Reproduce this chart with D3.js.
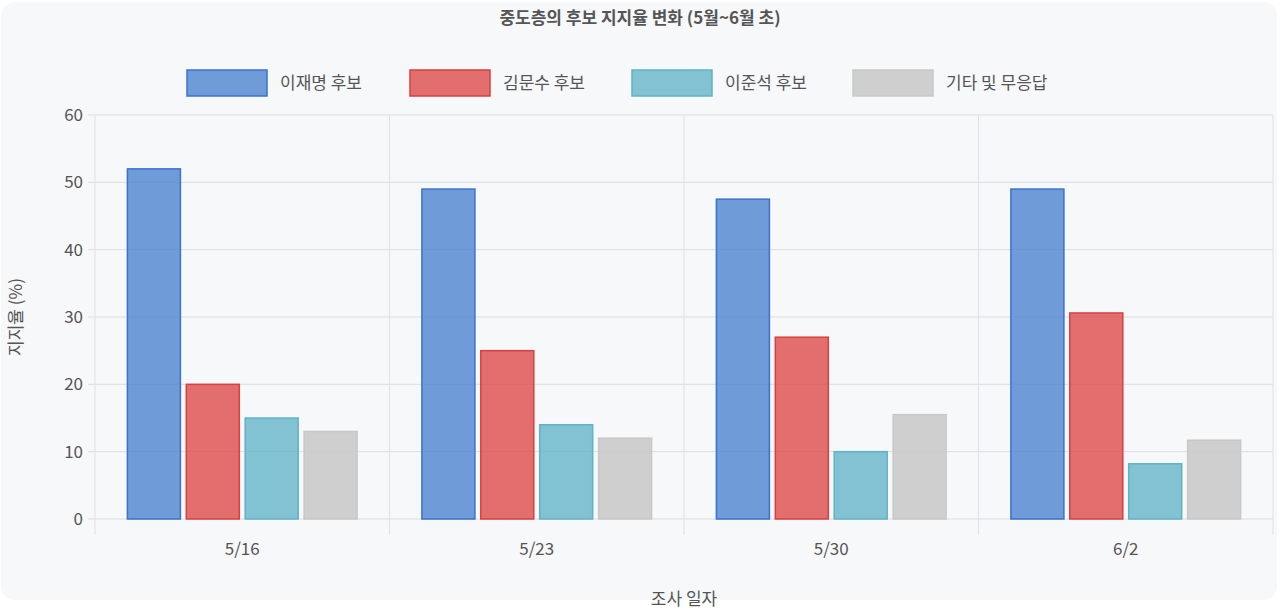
<!DOCTYPE html>
<html><head><meta charset="utf-8">
<script src="https://cdn.jsdelivr.net/npm/d3@7"></script>
<style>
body{margin:0;background:#fff;font-family:"Noto Sans CJK KR","Noto Sans",sans-serif;}
</style></head><body>
<svg id="c" width="1280" height="610"></svg>
<script>
const categories=["5/16","5/23","5/30","6/2"];
const seriesNames=["이재명 후보","김문수 후보","이준석 후보","기타 및 무응답"];
const lee=[52,49,47.5,49];
const kim=[20,25,27,30.6];
const lees=[15,14,10,8.2];
const other=[13,12,15.5,11.7];
const yTicks=[0,10,20,30,40,50,60];
const fills=["rgba(74,128,208,0.78)","rgba(220,70,70,0.78)","rgba(100,180,200,0.8)","rgba(200,200,200,0.85)"];
const strokes=["#3b72cf","#d94040","#5fb3c6","#c8c8c8"];
const series=[lee,kim,lees,other];

const svg=d3.select("#c");
svg.append("rect").attr("x",1).attr("y",2).attr("width",1276).attr("height",598).attr("rx",14).attr("fill","#f7f8fa");
const L=95,R=1273,T=115,B=519;
const x=d3.scaleBand().domain(categories).range([L,R]);
const y=d3.scaleLinear().domain([0,60]).range([B,T]);
const xs=d3.scaleBand().domain(d3.range(4)).range([0,x.bandwidth()*0.8]).paddingInner(0.1).paddingOuter(0.05);
const g=svg.append("g");
// horizontal grid
g.selectAll(".hg").data(yTicks).join("line").attr("x1",L-7).attr("x2",R).attr("y1",d=>y(d)).attr("y2",d=>y(d)).attr("stroke","#dcdde0").attr("stroke-width",1);
// vertical grid
const vb=d3.range(5).map(i=>L+i*x.bandwidth());
g.selectAll(".vg").data(vb).join("line").attr("x1",d=>d).attr("x2",d=>d).attr("y1",T).attr("y2",B+16).attr("stroke","#e0e1e4");
// bars
series.forEach((s,si)=>{
  g.selectAll(".b"+si).data(s).join("rect")
   .attr("x",(d,i)=>x(categories[i])+x.bandwidth()*0.1+xs(si)).attr("width",xs.bandwidth())
   .attr("y",d=>y(d)).attr("height",d=>B-y(d))
   .attr("fill",fills[si]).attr("stroke",strokes[si]).attr("stroke-width",1.5);
});
// y labels
g.selectAll(".yl").data(yTicks).join("text").attr("x",L-12).attr("y",d=>y(d)).attr("dy","0.35em").attr("text-anchor","end")
 .attr("font-size",17).attr("fill","#555").text(d=>d);
g.selectAll(".xl").data(categories).join("text").attr("x",d=>x(d)+x.bandwidth()/2).attr("y",555).attr("text-anchor","middle")
 .attr("font-size",17).attr("fill","#555").text(d=>d);
svg.append("text").attr("x",(L+R)/2).attr("y",605).attr("text-anchor","middle").attr("font-size",17).attr("fill","#555").text("조사 일자");
svg.append("text").attr("transform",`translate(22,${(T+B)/2}) rotate(-90)`).attr("text-anchor","middle").attr("font-size",17).attr("fill","#555").text("지지율 (%)");
svg.append("text").attr("x",640).attr("y",24).attr("text-anchor","middle").attr("font-size",17).attr("font-weight","bold").attr("fill","#555").text("중도층의 후보 지지율 변화 (5월~6월 초)");
// legend
const lx=[187,410,632,853];
seriesNames.forEach((n,i)=>{
  svg.append("rect").attr("x",lx[i]).attr("y",70).attr("width",80).attr("height",26).attr("fill",fills[i]).attr("stroke",strokes[i]).attr("stroke-width",1.5);
  svg.append("text").attr("x",lx[i]+93).attr("y",83).attr("dy","0.35em").attr("font-size",17).attr("fill","#555").text(n);
});
</script></body></html>
